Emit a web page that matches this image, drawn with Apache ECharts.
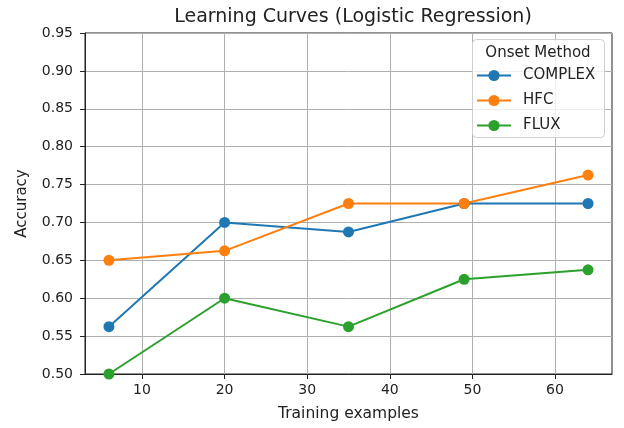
<!DOCTYPE html>
<html>
<head>
<meta charset="utf-8">
<script src="https://cdn.jsdelivr.net/npm/echarts@6/dist/echarts.min.js"></script>
<style>
  html, body { margin: 0; padding: 0; background: #fff; }
  #chart { width: 624px; height: 428px; }
</style>
</head>
<body>
<div id="chart"></div>
<script>
// training set sizes
const trainSizes = [6, 20, 35, 49, 64]
const complexAcc = [0.5625, 0.7, 0.6875, 0.725, 0.725]
const hfcAcc = [0.65, 0.6625, 0.725, 0.725, 0.7625]
const fluxAcc = [0.5, 0.6, 0.5625, 0.625, 0.6375]
const xTicks = [10, 20, 30, 40, 50, 60]

const font = 'DejaVu Sans'
const textColor = '#222'

function pairs (ys) {
  return trainSizes.map((x, i) => [x, ys[i]])
}

function lineSeries (name, color, ys) {
  return {
    name: name,
    type: 'line',
    data: pairs(ys),
    symbol: 'circle',
    symbolSize: 11,
    color: color,
    lineStyle: { width: 2, color: color },
    itemStyle: { color: color },
    emphasis: { disabled: true },
    animation: false
  }
}

let chart = echarts.init(document.getElementById('chart'), null, { renderer: 'canvas' })
chart.setOption({
  animation: false,
  title: {
    text: 'Learning Curves (Logistic Regression)',
    left: 348,
    top: 3,
    textAlign: 'center',
    textStyle: { fontFamily: font, fontSize: 19, fontWeight: 'normal', color: textColor }
  },
  grid: {
    left: 85,
    right: 12,
    top: 33,
    bottom: 54,
    show: true,
    borderColor: '#222',
    borderWidth: 1
  },
  xAxis: {
    type: 'value',
    min: 3.1,
    max: 66.9,
    splitNumber: 6,
    name: 'Training examples',
    nameLocation: 'middle',
    nameGap: 32,
    nameTextStyle: { fontFamily: font, fontSize: 15.5, color: textColor },
    axisLine: { show: true, onZero: false, lineStyle: { color: '#222' } },
    axisTick: { show: true, length: 5, customValues: xTicks, lineStyle: { color: '#222' } },
    axisLabel: {
      customValues: xTicks,
      margin: 9,
      fontFamily: font,
      fontSize: 14,
      color: textColor
    },
    splitLine: { show: true, lineStyle: { color: '#b0b0b0', width: 1 } }
  },
  yAxis: {
    type: 'value',
    min: 0.5,
    max: 0.95,
    interval: 0.05,
    name: 'Accuracy',
    nameLocation: 'middle',
    nameGap: 55,
    nameTextStyle: { fontFamily: font, fontSize: 15, color: textColor },
    axisLine: { show: true, lineStyle: { color: '#222' } },
    axisTick: { show: true, length: 5, lineStyle: { color: '#222' } },
    axisLabel: {
      margin: 12,
      fontFamily: font,
      fontSize: 14,
      color: textColor,
      formatter: v => v.toFixed(2)
    },
    splitLine: { show: true, lineStyle: { color: '#b0b0b0', width: 1 } }
  },
  legend: {
    orient: 'vertical',
    left: 476,
    top: 68,
    padding: 0,
    itemGap: 10,
    itemWidth: 34,
    itemHeight: 14,
    z: 6,
    data: ['COMPLEX', 'HFC', 'FLUX'],
    textStyle: { fontFamily: font, fontSize: 15, color: textColor, lineHeight: 15, padding: [0, 0, 0, 7] }
  },
  // legend frame and its title
  graphic: [
    {
      type: 'rect',
      z: 5,
      shape: { x: 472.5, y: 39.5, width: 132, height: 98, r: 4 },
      style: { fill: 'rgba(255,255,255,0.8)', stroke: '#d0d0d0', lineWidth: 1 }
    },
    {
      type: 'text',
      z: 6,
      x: 538,
      y: 53,
      style: {
        text: 'Onset Method',
        fontFamily: font,
        fontSize: 15,
        fill: textColor,
        align: 'center',
        verticalAlign: 'middle'
      }
    }
  ],
  series: [
    lineSeries('COMPLEX', '#1f77b4', complexAcc),
    lineSeries('HFC', '#ff7f0e', hfcAcc),
    lineSeries('FLUX', '#2ca02c', fluxAcc)
  ]
})
</script>
</body>
</html>
